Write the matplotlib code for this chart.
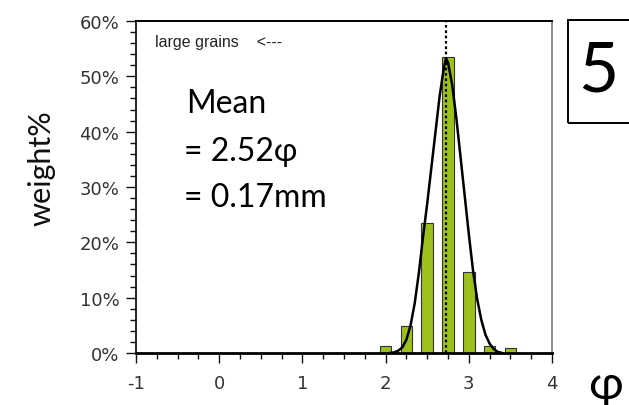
import matplotlib
matplotlib.use('Agg')
import matplotlib.pyplot as plt
from matplotlib.patches import Rectangle
from matplotlib.ticker import MultipleLocator, PercentFormatter

BAR_GREEN = '#9dc11c'
FG = '#111111'
DIM = '#333333'

# grain-size classes (phi) and weight percent per class
phi_classes = [2.0, 2.25, 2.5, 2.75, 3.0, 3.25, 3.5]
weight_pct = [1.2, 4.8, 23.5, 53.5, 14.7, 1.2, 0.9]

# fitted distribution curve
curve_phi = [2.05, 2.10, 2.15, 2.20, 2.25, 2.30, 2.35, 2.40, 2.45, 2.50, 2.55,
             2.60, 2.65, 2.70, 2.726, 2.75, 2.80, 2.85, 2.90, 2.95, 3.00, 3.05,
             3.10, 3.15, 3.20, 3.25, 3.30, 3.35, 3.40]
curve_pct = [0.0, 0.1, 0.4, 1.0, 2.4, 5.0, 9.0, 14.5, 21.0, 27.0, 33.5,
             40.0, 46.5, 51.5, 53.3, 52.5, 48.5, 42.5, 35.5, 28.5, 21.5, 15.0,
             9.8, 6.0, 3.3, 1.7, 0.7, 0.2, 0.0]
mode_phi = 2.725

plt.rcParams.update({
    'font.family': ['DejaVu Sans'],
    'axes.unicode_minus': False,
    'xtick.color': FG,
    'ytick.color': FG,
    'xtick.labelcolor': DIM,
    'ytick.labelcolor': DIM,
})

W, H = 629, 406
fig = plt.figure(figsize=(6.29, 4.06), dpi=100)
ax = fig.add_axes([0.2162, 0.1281, 0.6614, 0.8177])

ax.bar(phi_classes, weight_pct, width=0.14, color=BAR_GREEN,
       edgecolor='#333333', linewidth=0.8, zorder=2)
ax.plot(curve_phi, curve_pct, color='black', linewidth=1.8, zorder=3)
ax.axvline(mode_phi, color='black', linestyle=(0, (1.2, 1.2)), linewidth=1.6, zorder=4)

ax.set_xlim(-1, 4)
ax.set_ylim(0, 60)
ax.xaxis.set_major_locator(MultipleLocator(1))
ax.xaxis.set_minor_locator(MultipleLocator(0.25))
ax.yaxis.set_major_locator(MultipleLocator(10))
ax.yaxis.set_minor_locator(MultipleLocator(2))
ax.yaxis.set_major_formatter(PercentFormatter(decimals=0))
ax.tick_params(which='major', direction='out', length=7, width=1, labelsize=13, pad=5)
ax.tick_params(axis='x', which='major', pad=8)
ax.tick_params(which='minor', direction='out', length=4, width=1)

ax.spines['bottom'].set_linewidth(2)
ax.spines['left'].set_linewidth(1.2)
ax.spines['top'].set_linewidth(1.4)
ax.spines['right'].set_color('#777777')
ax.spines['right'].set_linewidth(1.2)

serif_like = ['Lato', 'Noto Sans', 'DejaVu Sans']

fig.text(42 / W, 1 - 168 / H, 'weight%', rotation=90, fontsize=22,
         family=serif_like, color=FG, va='center', ha='center')

fig.text(155 / W, 1 - 42 / H, 'large grains    <---', fontsize=11.5,
         family=['Liberation Sans'], color='#222222', va='center', ha='left')

for txt, x, base in [('Mean', 186, 112.7), ('= 2.52φ', 184, 160.7), ('= 0.17mm', 184, 206.7)]:
    fig.text(x / W, 1 - base / H, txt, fontsize=23, family=serif_like,
             color='black', va='baseline', ha='left')

fig.text(605 / W, 1 - 386 / H, 'φ', fontsize=34, family=serif_like,
         color='black', va='center', ha='center')

fig.patches.append(Rectangle((567.5 / W, 1 - 124 / H), 0.2, (124 - 20.5) / H,
                             transform=fig.transFigure, fill=False,
                             edgecolor='black', linewidth=1.4))
fig.text(598 / W, 1 - 72 / H, '5', fontsize=50, family=serif_like,
         color='black', va='center', ha='center')

fig.savefig('out.png', dpi=100)
